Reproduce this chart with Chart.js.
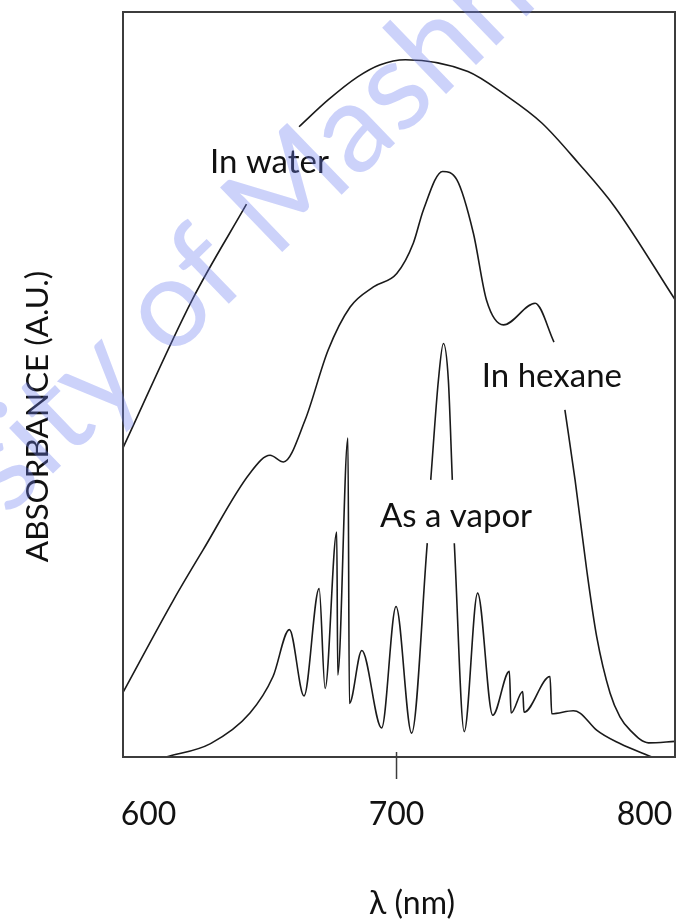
<!DOCTYPE html>
<html>
<head>
<meta charset="utf-8">
<script src="https://cdn.jsdelivr.net/npm/chart.js@4.4.1/dist/chart.umd.min.js"></script>
<style>
  html, body { margin: 0; padding: 0; background: #fff; }
  #wrap { width: 677px; height: 923px; }
</style>
</head>
<body>
<div id="wrap"><canvas id="spectrum"></canvas></div>
<script>
// Wavelength (nm) / absorbance (A.U., 0..1 of the frame).
// null = the curve is broken where a label sits.
const waterNm  = [589.7, 617.5, 639.5, 650.0, 660.7, 672.4, 684.3, 693.2, 703.6, 728.8, 743.7, 758.6, 773.4, 788.1, 812.3];
const waterAbs = [0.415, 0.613, 0.742, null, 0.846, 0.882, 0.913, 0.929, 0.936, 0.920, 0.889, 0.851, 0.797, 0.738, 0.614];

const hexaneNm  = [589.6, 610.1, 622.0, 640.9, 649.0, 654.4, 663.1, 672.4, 681.3, 690.7, 700.1, 706.8, 710.8, 718.6, 724.3, 731.0, 736.3, 743.1, 755.9, 763.5, 765.7, 767.9, 772.0, 776.7, 780.7, 786.1, 790.1, 794.2, 801.6, 812.3];
const hexaneAbs = [0.086, 0.211, 0.278, 0.381, 0.405, 0.396, 0.452, 0.546, 0.604, 0.631, 0.649, 0.690, 0.734, 0.786, 0.775, 0.703, 0.613, 0.580, 0.609, 0.557, null, 0.466, 0.372, 0.251, 0.162, 0.086, 0.054, 0.036, 0.019, 0.021];

const vaporNm  = [607.1, 625.0, 640.9, 650.2, 656.8, 662.7, 668.8, 671.2, 675.9, 676.3, 680.4, 681.0, 686.0, 694.0, 699.8, 706.1, 712.4, 713.1, 713.8, 716.9, 718.9, 720.9, 722.5, 722.9, 723.3, 727.3, 732.7, 738.8, 745.5, 746.2, 750.9, 751.4, 761.9, 762.6, 771.3, 774.0, 780.7, 790.1, 803.0];
const vaporAbs = [0.000, 0.018, 0.059, 0.108, 0.171, 0.082, 0.226, 0.092, 0.302, 0.110, 0.428, 0.072, 0.143, 0.039, 0.202, 0.032, 0.287, null, 0.372, 0.506, 0.555, 0.506, 0.372, null, 0.287, 0.034, 0.220, 0.056, 0.115, 0.059, 0.088, 0.060, 0.108, 0.058, 0.062, 0.059, 0.036, 0.018, 0.000];

const xTicks = [600, 700, 800];
const xMin = 589.7;
const xMax = 812.3;

// where the curve names sit (nm, absorbance of the text baseline)
const curveLabels = [
    { text: 'In water',   nm: 624.8, abs: 0.784 },
    { text: 'In hexane',  nm: 734.4, abs: 0.497 },
    { text: 'As a vapor', nm: 693.3, abs: 0.309 }
];

const FONT = 'Lato, "Open Sans", sans-serif';
const INK = '#1a1a1a';

function toPoints(xs, ys) {
    return xs.map((v, i) => ({ x: v, y: ys[i] }));
}

function curve(label, xs, ys) {
    return {
        label: label,
        data: toPoints(xs, ys),
        borderColor: INK,
        borderWidth: 1.6,
        pointRadius: 0,
        fill: false,
        spanGaps: false,
        cubicInterpolationMode: 'monotone'
    };
}

// frame, the single 700 nm tick, curve names, axis titles
const spectrumDecor = {
    id: 'spectrumDecor',
    afterDatasetsDraw(chart) {
        const { ctx, chartArea: a, scales: { x, y } } = chart;
        ctx.save();
        ctx.strokeStyle = '#3c3c3c';
        ctx.lineWidth = 2;
        ctx.strokeRect(a.left, a.top, a.right - a.left, a.bottom - a.top);

        const tx = x.getPixelForValue(700);
        ctx.lineWidth = 1.5;
        ctx.beginPath();
        ctx.moveTo(tx, a.bottom - 5);
        ctx.lineTo(tx, a.bottom + 22);
        ctx.stroke();

        ctx.fillStyle = '#111';
        ctx.font = '33px ' + FONT;
        ctx.textBaseline = 'alphabetic';
        curveLabels.forEach(l => {
            ctx.fillText(l.text, x.getPixelForValue(l.nm), y.getPixelForValue(l.abs));
        });

        ctx.font = '32px ' + FONT;
        ctx.textAlign = 'center';
        ctx.textBaseline = 'middle';
        ctx.fillText('λ (nm)', (a.left + a.right) / 2 + 13, 904);

        ctx.font = '31.5px ' + FONT;
        ctx.translate(38, (a.top + a.bottom) / 2 + 32);
        ctx.rotate(-Math.PI / 2);
        ctx.fillText('ABSORBANCE (A.U.)', 0, 0);
        ctx.restore();
    },
    afterDraw(chart) {
        // faint watermark across the plot
        const ctx = chart.ctx;
        const text = 'University of Mashhad';
        const ang = -44 * Math.PI / 180;
        ctx.save();
        ctx.font = '125px ' + FONT;
        const d = ctx.measureText('University of ').width;
        ctx.translate(274 - d * Math.cos(ang), 260 - d * Math.sin(ang));
        ctx.rotate(ang);
        ctx.fillStyle = 'rgba(110, 125, 240, 0.35)';
        ctx.textBaseline = 'alphabetic';
        ctx.fillText(text, 0, 0);
        ctx.restore();
    }
};

new Chart(document.getElementById('spectrum'), {
    type: 'line',
    data: {
        datasets: [
            curve('In water', waterNm, waterAbs),
            curve('In hexane', hexaneNm, hexaneAbs),
            curve('As a vapor', vaporNm, vaporAbs)
        ]
    },
    options: {
        responsive: true,
        maintainAspectRatio: false,
        animation: false,
        layout: { padding: { left: 123, right: 2, top: 12, bottom: 0 } },
        plugins: {
            legend: { display: false },
            tooltip: { enabled: false }
        },
        scales: {
            x: {
                type: 'linear',
                min: xMin,
                max: xMax,
                afterBuildTicks: (scale) => {
                    scale.ticks = xTicks.map(v => ({ value: v }));
                },
                afterFit: (scale) => {
                    scale.height = 166;
                    // labels stay inside the frame width, no side padding needed
                    scale.paddingLeft = 0;
                    scale.paddingRight = 0;
                },
                grid: { display: false, drawTicks: false },
                border: { display: false },
                ticks: {
                    color: '#111',
                    padding: 38,
                    maxRotation: 0,
                    autoSkip: false,
                    font: { family: FONT, size: 32 }
                }
            },
            y: {
                display: false,
                min: 0,
                max: 1
            }
        }
    },
    plugins: [spectrumDecor]
});
</script>
</body>
</html>
